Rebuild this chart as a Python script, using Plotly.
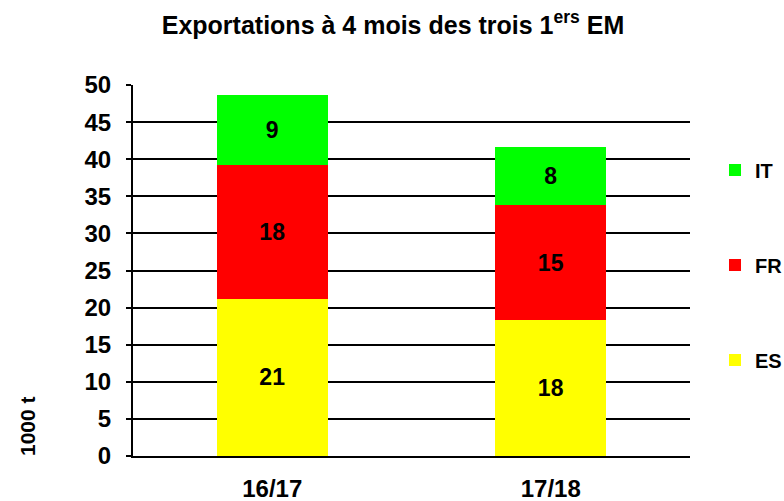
import plotly.graph_objects as go

categories = ["16/17", "17/18"]
es = [21.2, 18.3]
fr = [18.0, 15.5]
it = [9.4, 7.9]
es_labels = ["21", "18"]
fr_labels = ["18", "15"]
it_labels = ["9", "8"]
yticks = [0, 5, 10, 15, 20, 25, 30, 35, 40, 45, 50]

FONT = "Liberation Sans, Arial, sans-serif"

W, H = 784, 501
L, R, T, B = 133, 94, 85, 45
PW, PH = W - L - R, H - T - B

def px_to_paper(xp, yp):
    return (xp - L) / PW, (H - B - yp) / PH

fig = go.Figure()
series = [
    ("ES", es, es_labels, "#FFFF00", "legend3", 360),
    ("FR", fr, fr_labels, "#FF0000", "legend2", 265),
    ("IT", it, it_labels, "#00FF00", "legend", 170),
]
for name, vals, labels, color, leg, _ in series:
    fig.add_trace(go.Bar(
        x=categories, y=vals, name=f"<b>{name}</b>", legend=leg,
        marker=dict(color=color, line=dict(width=0)),
        text=labels, texttemplate="<b>%{text}</b>", textposition="inside",
        insidetextanchor="middle", textangle=0,
        textfont=dict(family=FONT, size=23, color="black"),
        hoverinfo="skip",
    ))

legend_common = dict(
    xanchor="left", yanchor="middle",
    font=dict(family=FONT, size=20, color="black"),
    bgcolor="rgba(0,0,0,0)", itemwidth=30,
)
legends = {}
for name, vals, labels, color, leg, ypix in series:
    lx, ly = px_to_paper(715, ypix)
    legends[leg] = dict(x=lx, y=ly, **legend_common)

fig.update_layout(
    barmode="stack",
    bargap=0.6,
    width=W, height=H,
    margin=dict(l=L, r=R, t=T, b=B, autoexpand=False),
    plot_bgcolor="white", paper_bgcolor="white",
    font=dict(family=FONT, color="black"),
    title=dict(
        text="<b>Exportations à 4 mois des trois 1<sup>ers</sup> EM</b>",
        x=393 / W, xanchor="center", y=1 - 25 / H, yanchor="middle",
        font=dict(family=FONT, size=25, color="black"),
    ),
    showlegend=True,
    uniformtext=dict(mode="show", minsize=10),
    **legends,
)

fig.update_yaxes(
    range=[0, 50], tickvals=yticks, ticktext=[f"<b>{v}</b>" for v in yticks],
    showgrid=True, gridcolor="black", gridwidth=2,
    showline=True, linecolor="black", linewidth=2,
    ticks="outside", ticklen=5, tickwidth=2, tickcolor="black",
    tickfont=dict(family=FONT, size=24, color="black"),
    ticklabelstandoff=10,
    zeroline=False, fixedrange=True,
)
fig.update_xaxes(
    ticktext=[f"<b>{c}</b>" for c in categories], tickvals=categories,
    showline=True, linecolor="black", linewidth=2,
    ticks="", tickfont=dict(family=FONT, size=24, color="black"),
    ticklabelstandoff=10,
    fixedrange=True,
)

ax, ay = px_to_paper(27, 426)
fig.add_annotation(
    text="<b>1000 t</b>", textangle=-90, x=ax, y=ay,
    xanchor="center", yanchor="middle",
    xref="paper", yref="paper", showarrow=False,
    font=dict(family=FONT, size=21, color="black"),
)

fig.write_html(
    "out.html",
    config={"displayModeBar": False},
    post_script="document.body.style.margin='0';document.body.style.overflow='hidden';",
)
